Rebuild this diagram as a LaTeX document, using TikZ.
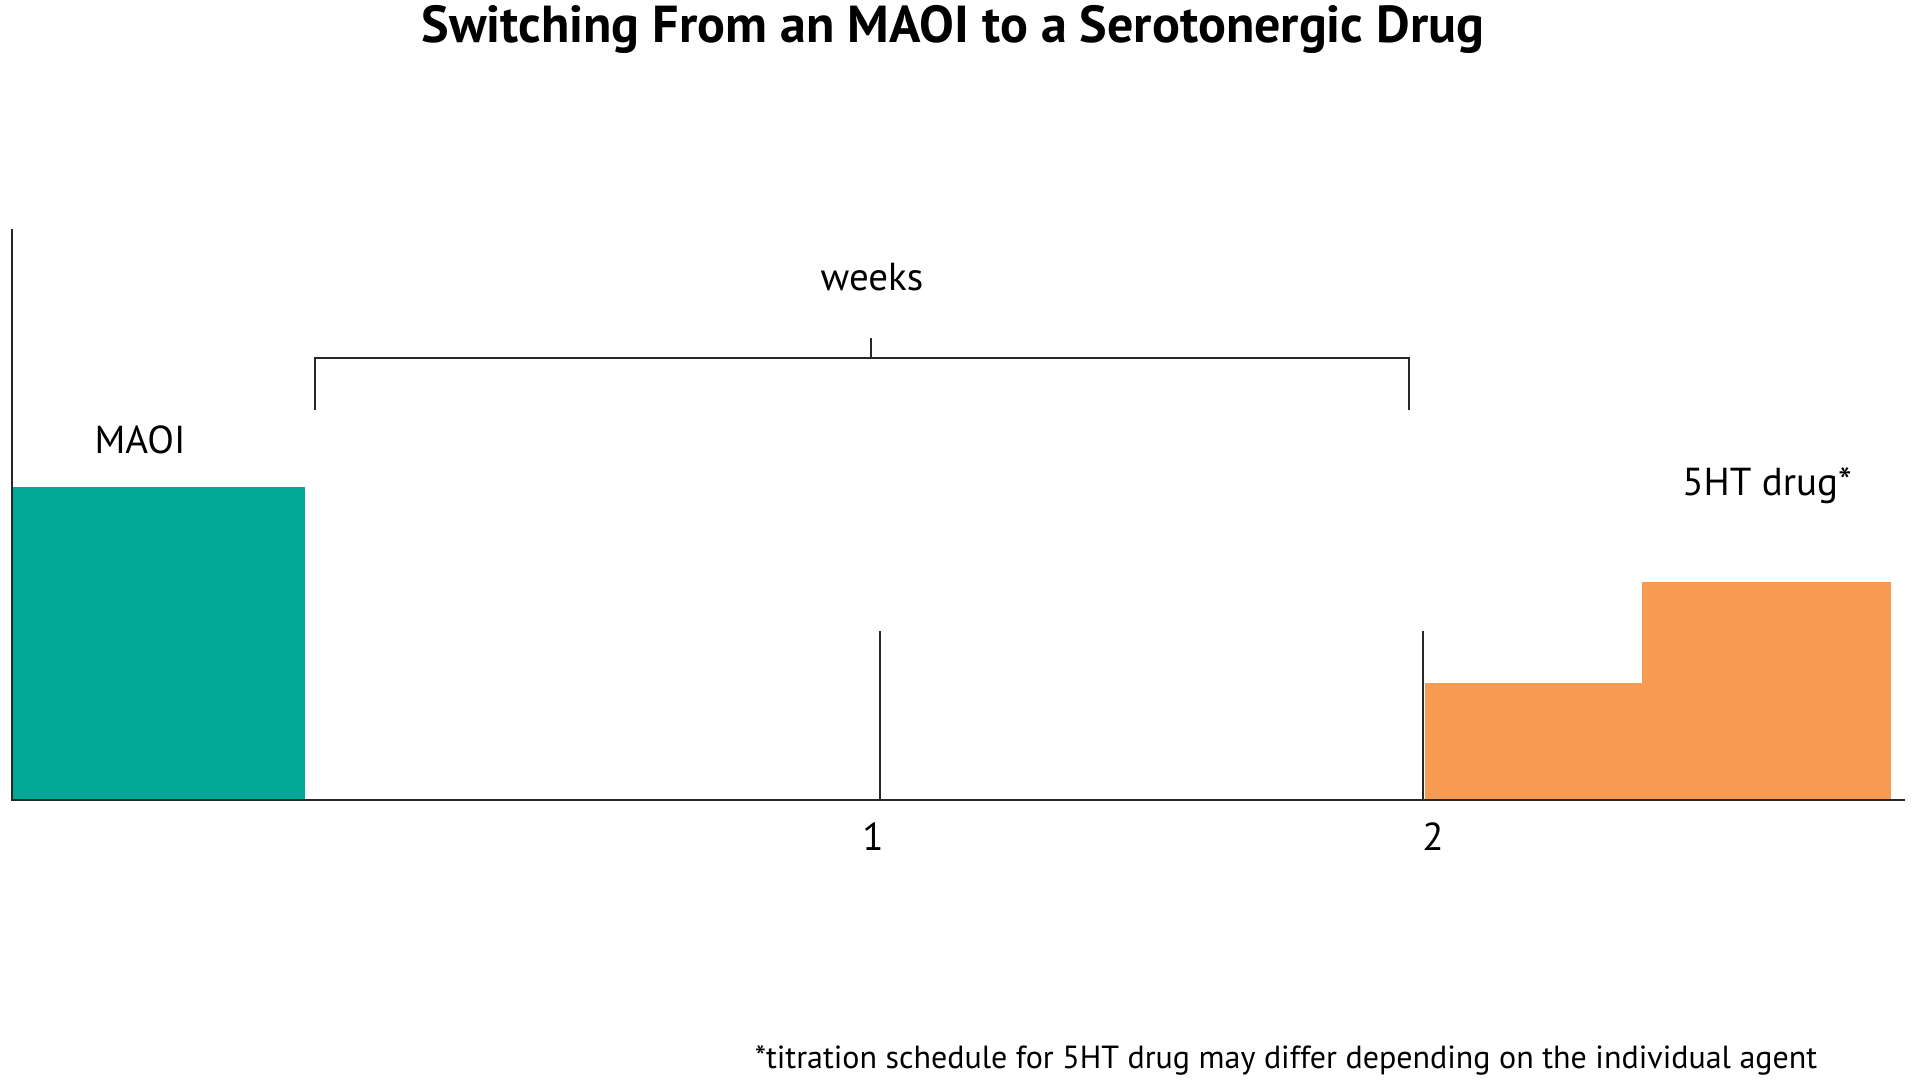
\documentclass[tikz,border=0pt]{standalone}
\usepackage{fontspec}
\setmainfont{PT Sans}
\definecolor{maoiteal}{RGB}{0,168,150}
\definecolor{htorange}{RGB}{247,155,83}
\definecolor{linegray}{RGB}{40,38,40}
\begin{document}
\begin{tikzpicture}[x=1pt,y=-1pt,
  axisline/.style={draw=linegray,line width=2pt},
  thinline/.style={draw=linegray,line width=1.8pt},
  lbl/.style={font=\fontsize{39}{46}\selectfont,inner sep=0pt,anchor=center,text=black},
  bar/.style={inner sep=0pt,outer sep=0pt}]
\useasboundingbox[fill=white] (0,0) rectangle (1920,1080);
% title
\node[font=\fontsize{52}{60}\selectfont\bfseries,inner sep=0pt] (title) at (953,29) {Switching From an MAOI to a Serotonergic Drug};
% bars
\fill[maoiteal] (13,487) rectangle (305,800);
\fill[htorange] (1425,683) rectangle (1642,800);
\fill[htorange] (1642,582) rectangle (1891,800);
% axes
\coordinate (ytop) at (12,229);
\coordinate (origin) at (12,800);
\coordinate (xend) at (1905,800);
\draw[axisline] (ytop) -- (origin) -- (xend);
% ticks
\coordinate (t1top) at (880,631);
\coordinate (t1bot) at (880,800);
\coordinate (t2top) at (1423,631);
\coordinate (t2bot) at (1423,800);
\draw[thinline] (t1top) -- (t1bot);
\draw[thinline] (t2top) -- (t2bot);
% bracket
\coordinate (bl) at (315,410);
\coordinate (blt) at (315,358);
\coordinate (brt) at (1409,358);
\coordinate (br) at (1409,410);
\coordinate (bm) at (871,358);
\coordinate (bmt) at (871,338);
\draw[thinline] (bl) -- (blt) -- (brt) -- (br);
\draw[thinline] (bm) -- (bmt);
% labels
\node[lbl] (weeks) at (872,277) {weeks};
\node[lbl] (maoi) at (140,440) {MAOI};
\node[lbl] (ht) at (1767,486) {5HT drug*};
\node[lbl] (one) at (873,837) {1};
\node[lbl] (two) at (1433,837) {2};
\node[font=\fontsize{32}{38}\selectfont,inner sep=0pt] (note) at (1286,1060) {*titration schedule for 5HT drug may differ depending on the individual agent};
\end{tikzpicture}
\end{document}
